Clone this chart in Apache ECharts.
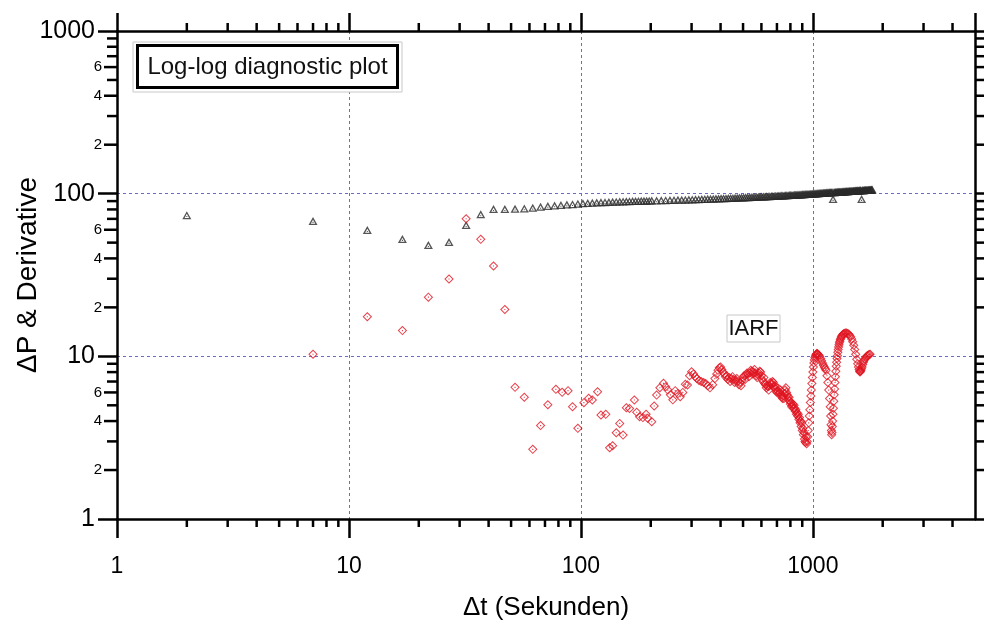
<!DOCTYPE html>
<html><head><meta charset="utf-8">
<script src="https://cdn.jsdelivr.net/npm/echarts@6/dist/echarts.min.js"></script>
<style>html,body{margin:0;padding:0;background:#fff}#main{width:984px;height:628px}</style>
</head><body><div id="main"></div>
<script>
// ---- data ----
const dpTime = [2,7,12,17,22,27,32,37,42,47,52,57,62,67,72,77,82,87,92,97,102,107,112,117,122,127,132,137,142,147,152,157,162,167,172,177,182,187,192,197,
202,212,222,232,242,252,262,272,282,292,302,312,322,332,342,352,362,372,382,392,402,412,422,432,442,452,462,472,482,492,502,512,522,532,542,552,562,572,582,592,602,612,622,632,642,652,662,672,682,692,702,712,722,732,742,752,762,772,782,792,802,812,822,832,842,852,862,872,882,892,902,912,922,932,942,952,962,972,982,992,
1002,1012,1022,1032,1042,1052,1062,1072,1082,1092,1102,1112,1122,1132,1142,1152,1162,1172,1182,1192,1202,1212,1222,1232,1242,1252,1262,1272,1282,1292,1302,1312,1322,1332,1342,1352,1362,1372,1382,1392,1402,1412,1422,1432,1442,1452,1462,1472,1482,1492,1502,1512,1522,1532,1542,1552,1562,1572,1582,1592,1602,1612,1622,1632,1642,1652,1662,1672,1682,1692,1702,1712,1722,1732,1742,1752,1762,1772,1782,1792,1802];
const dpValue = [73.8,67.9,59.7,52.6,48.3,50.4,64.1,74.6,80.4,80.4,80.8,81.2,81.9,83,84,84.6,85.2,85.7,86.2,86.8,87.3,87.6,87.9,88.2,88.5,88.7,88.9,89.1,89.3,89.5,89.6,89.8,89.9,90.0,90.1,90.2,90.3,90.4,90.5,90.6,
90.7,90.8,91.0,91.2,91.3,91.5,91.6,91.8,91.9,92.0,92.2,92.3,92.5,92.6,92.8,92.9,93.0,93.2,93.3,93.4,93.6,93.7,93.8,94.0,94.1,94.2,94.3,94.4,94.6,94.7,94.8,94.9,95.0,95.2,95.3,95.4,95.5,95.6,95.7,95.9,96.0,96.1,96.2,96.3,96.4,96.5,96.6,96.8,96.9,97.0,97.1,97.2,97.3,97.4,97.5,97.6,97.7,97.8,97.9,98.0,98.1,98.2,98.3,98.4,98.5,98.6,98.7,98.8,98.9,99.0,99.1,99.2,99.3,99.4,99.5,99.6,99.7,99.8,99.9,100.0,
100.1,100.2,100.3,100.4,100.5,100.6,100.7,100.8,100.9,101.0,101.1,101.2,101.3,101.4,101.5,101.6,101.7,101.8,101.9,101.9,102.0,102.1,92.7,102.2,102.2,102.3,102.4,102.5,102.6,102.6,102.7,102.8,102.9,102.9,103.0,103.1,103.2,103.2,103.3,103.4,103.5,103.5,103.6,103.7,103.8,103.8,103.9,104.0,104.0,104.1,104.2,104.2,104.3,104.4,104.4,104.5,104.6,104.6,104.7,104.8,104.8,104.9,92.7,104.9,105.0,105.0,105.1,105.2,105.2,105.3,105.3,105.4,105.5,105.5,105.6,105.6,105.7,105.8,105.8,105.9,105.9];

const derivTime = [7,12,17,22,27,32,37,42,47,52,57,62,67,72,78,83,88,92,97,103,108,112,118,122,128,133,137,142,147,152,157,162,170,174,179,185,191,194,202,207,212,219,227,
232,237,243,249,255,262,268,275,282,288,294,300,306,311,316,323,330,338,345,352,360,370,378,385,390,395,400,405,410,415,420,425,430,435,440,445,450,455,460,465,470,475,480,485,490,495,500,505,510,515,520,525,530,535,540,545,550,555,560,565,570,575,580,585,590,595,600,605,610,615,620,625,630,635,640,645,650,655,660,665,670,675,680,685,690,695,700,705,710,715,720,725,730,735,740,745,750,755,760,765,770,775,780,785,790,795,800,805,810,815,820,825,830,835,840,845,850,855,860,865,870,875,880,885,890,895,900,905,910,915,920,925,930,935,940,945,950,955,960,965,
970,975,980,985,990,995,1000,1005,1010,1015,1020,1025,1030,1035,1040,1045,1050,1060,1070,1080,1090,1100,1110,1120,1130,1140,1150,1160,1170,1180,1188,1193,1197,1201,1205,1209,1213,1217,1221,1226,1231,1236,1241,1246,1251,1256,1261,1266,1271,1276,1281,1286,1291,1296,1301,1307,1313,1320,1327,1335,1345,1355,1365,1380,1395,1410,1425,1440,1455,1470,1485,1500,1515,1530,1545,1560,1572,1582,1590,1597,1604,1611,1620,1630,1640,1650,1660,1675,1690,1705,1720,1735,1750,1765,1780,1795,1810,1825,1840];
const derivValue = [10.3,17.5,14.4,23.1,29.9,70.1,52.4,35.9,19.4,6.45,5.6,2.68,3.75,5.04,6.27,6.01,6.15,4.9,3.61,5.19,5.52,5.39,6.06,4.36,4.4,2.74,2.82,3.39,3.87,3.28,4.83,4.78,5.39,4.53,4.25,4.2,4.4,4.16,3.96,4.95,5.78,6.41,6.82,
6.5,6.2,5.8,5.4,6.15,5.9,5.65,6.0,6.73,6.66,7.6,8.04,7.8,7.5,7.3,7.1,7.0,6.9,6.8,6.6,6.4,6.7,7.3,7.8,8.2,8.5,8.6,8.3,8.0,7.8,7.5,7.6,7.2,7.4,7.0,7.3,7.5,7.2,6.9,7.1,7.3,7.0,6.7,6.9,6.6,7.1,7.4,7.6,7.2,7.7,7.9,7.8,7.5,7.9,8.2,8.1,7.8,8.0,8.3,7.9,7.6,7.4,7.7,7.9,8.1,8.0,7.6,7.2,7.0,7.4,6.8,6.7,6.4,6.6,6.5,6.2,6.6,6.9,6.7,6.8,7.0,6.9,6.5,6.6,6.3,6.1,6.0,6.4,6.1,5.9,6.0,6.2,5.8,5.6,5.5,5.7,5.5,5.9,6.2,6.4,6.0,5.8,5.6,5.4,5.6,5.3,5.1,5.2,4.9,5.0,5.1,4.8,5.0,4.8,4.6,4.7,4.4,4.5,4.3,4.4,4.1,4.2,3.9,4.0,3.7,3.9,3.5,3.6,3.3,3.4,3.1,3.0,2.95,3.2,2.9,
3.0,3.2,3.5,3.9,4.3,4.7,5.2,5.7,6.2,6.8,7.4,8.0,8.6,9.1,9.5,9.8,10.0,10.2,10.3,10.4,10.4,10.3,10.2,10.0,9.7,9.4,9.1,8.8,8.6,8.4,8.2,7.6,6.9,6.2,5.5,4.9,4.3,3.8,3.5,3.3,3.4,3.7,4.0,4.4,4.8,5.3,5.8,6.3,6.9,7.5,8.1,8.7,9.2,9.7,10.1,10.6,11.0,11.4,11.8,12.1,12.4,12.7,12.9,13.2,13.4,13.6,13.7,13.8,13.9,13.9,13.8,13.7,13.5,13.2,12.8,12.3,11.7,11.0,10.3,9.6,9.0,8.6,8.3,8.1,8.0,8.1,8.2,8.4,8.6,8.9,9.2,9.4,9.6,9.8,10.0,10.1,10.2,10.25,10.3];

const xMajorTicks = [1, 10, 100, 1000];
const yMajorTicks = [1, 10, 100, 1000];
const yMinorLabels = [2, 4, 6, 20, 40, 60, 200, 400, 600];
const xName = 'Δt (Sekunden)';
const yName = 'ΔP & Derivative';
const boxTitle = 'Log-log diagnostic plot';
const flowLabel = 'IARF';

// ---- chart ----
const FONT = '"Liberation Sans", Arial, sans-serif';
const gridColor = '#6b6bc6';
const triPath = 'path://M5 0 L10 9 L0 9 Z M5 3.0 L2.5 7.6 L7.5 7.6 Z M4.4 5.4 L5.6 5.4 L5.6 6.6 L4.4 6.6 Z';
const diaPath = 'path://M5 0 L10 5 L5 10 L0 5 Z M5 1.5 L1.5 5 L5 8.5 L8.5 5 Z M4.4 4.4 L5.6 4.4 L5.6 5.6 L4.4 5.6 Z';

const isMajor = v => { const l = Math.log10(v); return Math.abs(l - Math.round(l)) < 1e-6; };

const chart = echarts.init(document.getElementById('main'));
const axisBase = {
  type: 'log', logBase: 10,
  axisLine: { show: true, lineStyle: { color: '#000', width: 2.5 } },
  axisTick: { show: true, inside: false, length: 19, lineStyle: { color: '#000', width: 2.5 } },
  splitLine: { show: false },
  minorTick: { show: false }
};
chart.setOption({
  animation: false,
  backgroundColor: '#fff',
  grid: { left: 117, right: 9, top: 31, bottom: 109, containLabel: false, outerBoundsMode: 'none' },
  xAxis: [
    Object.assign({}, axisBase, {
      position: 'bottom', min: 1, max: 5000,
      axisLabel: { show: true, margin: 36, fontFamily: FONT, fontSize: 23, color: '#000', showMaxLabel: false,
        formatter: v => (isMajor(v) && xMajorTicks.includes(Math.round(v))) ? String(Math.round(v)) : '' },
      splitLine: { show: true, lineStyle: { color: gridColor, type: [3, 3], width: 1 } },
      name: xName, nameLocation: 'middle', nameGap: 76, nameMoveOverlap: false,
      nameTextStyle: { fontFamily: FONT, fontSize: 26, color: '#000' }
    }),
    Object.assign({}, axisBase, {
      position: 'top', min: 1, max: 5000, axisLabel: { show: false },
      axisTick: { show: true, inside: false, length: 18, lineStyle: { color: '#000', width: 2.5 } }
    })
  ],
  yAxis: [
    Object.assign({}, axisBase, {
      position: 'left', min: 1, max: 1000,
      axisLabel: { show: true, margin: 22, fontFamily: FONT, fontSize: 25, color: '#000',
        formatter: v => (isMajor(v) && yMajorTicks.includes(Math.round(v))) ? String(Math.round(v)) : '' },
      splitLine: { show: true, lineStyle: { color: gridColor, type: [3, 3], width: 1 } },
      name: yName, nameLocation: 'middle', nameGap: 75, nameRotate: 90, nameMoveOverlap: false,
      nameTextStyle: { fontFamily: FONT, fontSize: 28, color: '#000' }
    }),
    Object.assign({}, axisBase, {
      position: 'right', min: 1, max: 1000, axisLabel: { show: false },
      axisTick: { show: true, inside: false, length: 10, lineStyle: { color: '#000', width: 2.5 } }
    })
  ],
  series: [
    {
      name: 'ΔP', type: 'scatter', xAxisIndex: 0, yAxisIndex: 0,
      data: dpTime.map((t, i) => [t, dpValue[i]]),
      symbol: triPath, symbolSize: [9, 8],
      itemStyle: { color: '#2b2b2b' }, z: 3
    },
    {
      name: 'Derivative', type: 'scatter', xAxisIndex: 0, yAxisIndex: 0,
      data: derivTime.map((t, i) => [t, derivValue[i]]),
      symbol: diaPath, symbolSize: 9.5,
      itemStyle: { color: '#e01420' }, z: 4
    }
  ]
});

// ---- minor ticks & minor labels positioned through the axes' scales ----
const px = v => chart.convertToPixel({ xAxisIndex: 0 }, v);
const py = v => chart.convertToPixel({ yAxisIndex: 0 }, v);
const L = px(1), R = px(5000), B = py(1), T = py(1000);
const g = [];
const tickStyle = { stroke: '#000', lineWidth: 2.5 };
const mults = [2, 3, 4, 5, 6, 7, 8, 9];
[1, 10, 100, 1000].forEach(d => mults.forEach(m => {
  const v = m * d; if (v >= 5000) return;
  const x = px(v);
  g.push({ type: 'line', silent: true, shape: { x1: x, y1: B, x2: x, y2: B + 8 }, style: tickStyle });
  g.push({ type: 'line', silent: true, shape: { x1: x, y1: T, x2: x, y2: T - 8 }, style: tickStyle });
}));
[1, 10, 100].forEach(d => mults.forEach(m => {
  const v = m * d, y = py(v);
  const labelled = yMinorLabels.includes(v);
  g.push({ type: 'line', silent: true, shape: { x1: L, y1: y, x2: L - (labelled ? 13 : 10), y2: y }, style: tickStyle });
  g.push({ type: 'line', silent: true, shape: { x1: R, y1: y, x2: R + 10, y2: y }, style: tickStyle });
  if (labelled) g.push({ type: 'text', silent: true, x: L - 15, y: y,
    style: { text: String(m), font: '15px ' + FONT, fill: '#000', align: 'right', verticalAlign: 'middle' } });
}));
// title box
g.push({ type: 'rect', silent: true, shape: { x: 133, y: 42, width: 269, height: 50 }, style: { fill: '#fff', stroke: '#c8c8c8', lineWidth: 1 }, z: 10 });
g.push({ type: 'rect', silent: true, shape: { x: 137.5, y: 45.5, width: 260, height: 42 }, style: { fill: 'none', stroke: '#000', lineWidth: 3 }, z: 11 });
g.push({ type: 'text', silent: true, x: 267.5, y: 67, z: 12,
  style: { text: boxTitle, font: '24px ' + FONT, fill: '#111', align: 'center', verticalAlign: 'middle' } });
// flow regime label
g.push({ type: 'rect', silent: true, shape: { x: 727, y: 315, width: 53, height: 27 }, style: { fill: '#fff', stroke: '#c8c8c8', lineWidth: 1 }, z: 10 });
g.push({ type: 'text', silent: true, x: 753.5, y: 329, z: 12,
  style: { text: flowLabel, font: '22px ' + FONT, fill: '#111', align: 'center', verticalAlign: 'middle' } });
chart.setOption({ graphic: g });
</script></body></html>
